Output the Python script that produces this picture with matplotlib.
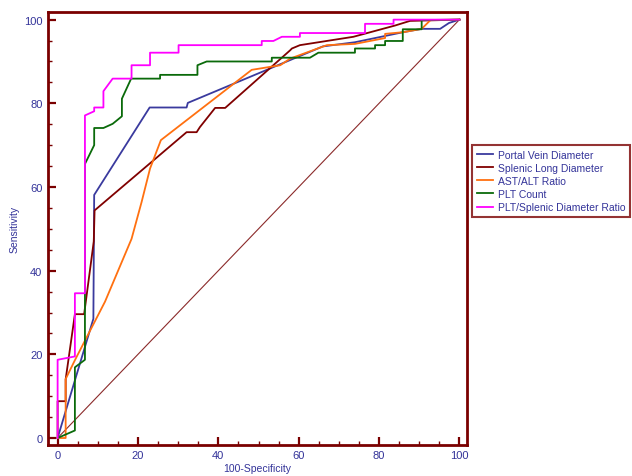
import numpy as np
import matplotlib
matplotlib.use("Agg")
import matplotlib.pyplot as plt
from matplotlib.ticker import MultipleLocator

plt.rcParams['font.family'] = ['Liberation Sans', 'DejaVu Sans']

# ROC curves (x = 100-Specificity, y = Sensitivity)
portal_x = [0, 8.9, 9.1, 22.9, 32.1, 32.4, 66, 74, 81, 86, 90.6, 95.2, 97.4, 100]
portal_y = [0, 28.5, 58.1, 79.0, 79.0, 80.1, 93.6, 94.6, 96, 97, 97.8, 97.8, 99.2, 100]

splenic_x = [0, 0, 2.0, 2.0, 4.3, 6.6, 9.0, 9.2, 32.1, 34.6, 35.4, 39.2, 41.7,
             57.9, 58.3, 60.3, 73.6, 84, 87.7, 100]
splenic_y = [0, 8.8, 8.8, 14, 29.6, 29.6, 47, 54.4, 73.1, 73.1, 74.3, 78.9, 78.9,
             92.7, 93.1, 93.9, 95.9, 98.6, 99.7, 100]

astalt_x = [0, 2.0, 2.0, 4.3, 11.8, 18.4, 20.9, 23, 25.7, 48.3, 55.4, 57.9, 67,
            74, 81.5, 81.5, 86, 90.6, 92.8, 100]
astalt_y = [0, 0, 14.1, 18.6, 32.6, 47.6, 56.4, 64.4, 71.2, 88.0, 89.1, 90.7, 93.9,
            94.2, 95.6, 96.6, 97.0, 97.8, 99.9, 100]

plt_x = [0, 4.3, 4.3, 6.8, 6.8, 9.1, 9.1, 11.4, 13.7, 16.0, 16.0, 18.3, 25.5, 25.5,
         34.8, 34.8, 37.1, 53.3, 53.3, 62.8, 64.9, 74, 74, 79, 79, 81.5, 81.5,
         85.9, 85.9, 90.6, 90.6, 100]
plt_y = [0, 1.8, 16.9, 18.7, 65.5, 70, 74.1, 74.1, 75.1, 76.9, 81.1, 85.9, 85.9, 86.8,
         86.8, 89.1, 90.0, 90.0, 90.9, 90.9, 92.1, 92.1, 93.1, 93.1, 93.9, 93.9, 94.9,
         94.9, 97.7, 97.7, 99.9, 100]

ratio_x = [0, 0, 4.3, 4.3, 6.8, 6.8, 9.1, 9.1, 11.4, 11.4, 13.7, 18.4, 18.4, 23, 23,
           30.1, 30.1, 50.8, 50.8, 53.7, 55.8, 60.3, 60.3, 76.5, 76.5, 83.6, 83.6, 100]
ratio_y = [0, 18.7, 19.5, 34.6, 34.6, 77.1, 78.1, 79, 79, 82.9, 85.9, 85.9, 89.1, 89.1,
           92.1, 92.1, 93.9, 93.9, 94.9, 94.9, 95.9, 95.9, 96.8, 96.8, 99, 99, 100, 100]

series = [
    ("Portal Vein Diameter", portal_x, portal_y, "#3a3a9e"),
    ("Splenic Long Diameter", splenic_x, splenic_y, "#800000"),
    ("AST/ALT Ratio", astalt_x, astalt_y, "#ff7010"),
    ("PLT Count", plt_x, plt_y, "#0a6a0a"),
    ("PLT/Splenic Diameter Ratio", ratio_x, ratio_y, "#ff00ff"),
]

frame_col = "#7a0000"
text_col = "#333399"

fig = plt.figure(figsize=(6.32, 4.77), dpi=100)
ax = fig.add_axes([0.0759, 0.0656, 0.6625, 0.9078])

ax.plot([0, 100], [0, 100], color="#8b2a2a", lw=0.8, zorder=1)
for name, xs, ys, col in series:
    ax.plot(xs, ys, color=col, lw=1.3, label=name, zorder=2)

ax.set_xlim(-2.4, 101.8)
ax.set_ylim(-1.6, 101.9)
ax.xaxis.set_major_locator(MultipleLocator(20))
ax.xaxis.set_minor_locator(MultipleLocator(5))
ax.yaxis.set_major_locator(MultipleLocator(20))
ax.yaxis.set_minor_locator(MultipleLocator(5))
ax.tick_params(which="both", direction="in", color=frame_col, top=False, right=False)
ax.tick_params(which="major", length=6, width=1.6, labelsize=8, labelcolor=text_col, pad=4)
ax.tick_params(which="minor", length=3, width=1.0)
for sp in ax.spines.values():
    sp.set_color(frame_col)
    sp.set_linewidth(2)

ax.set_xlabel("100-Specificity", fontsize=7.5, color=text_col, labelpad=2)
ax.set_ylabel("Sensitivity", fontsize=7.5, color=text_col, labelpad=3)

leg = fig.legend(loc="upper left", bbox_to_anchor=(472 / 632, 1 - 146 / 477),
                 fontsize=7.5, frameon=True, fancybox=False, handlelength=1.6,
                 handletextpad=0.4, labelspacing=0.3, borderpad=0.45,
                 borderaxespad=0)
leg.get_frame().set_edgecolor(frame_col)
leg.get_frame().set_linewidth(1.5)
for t in leg.get_texts():
    t.set_color(text_col)

fig.savefig("out.png", dpi=100)
